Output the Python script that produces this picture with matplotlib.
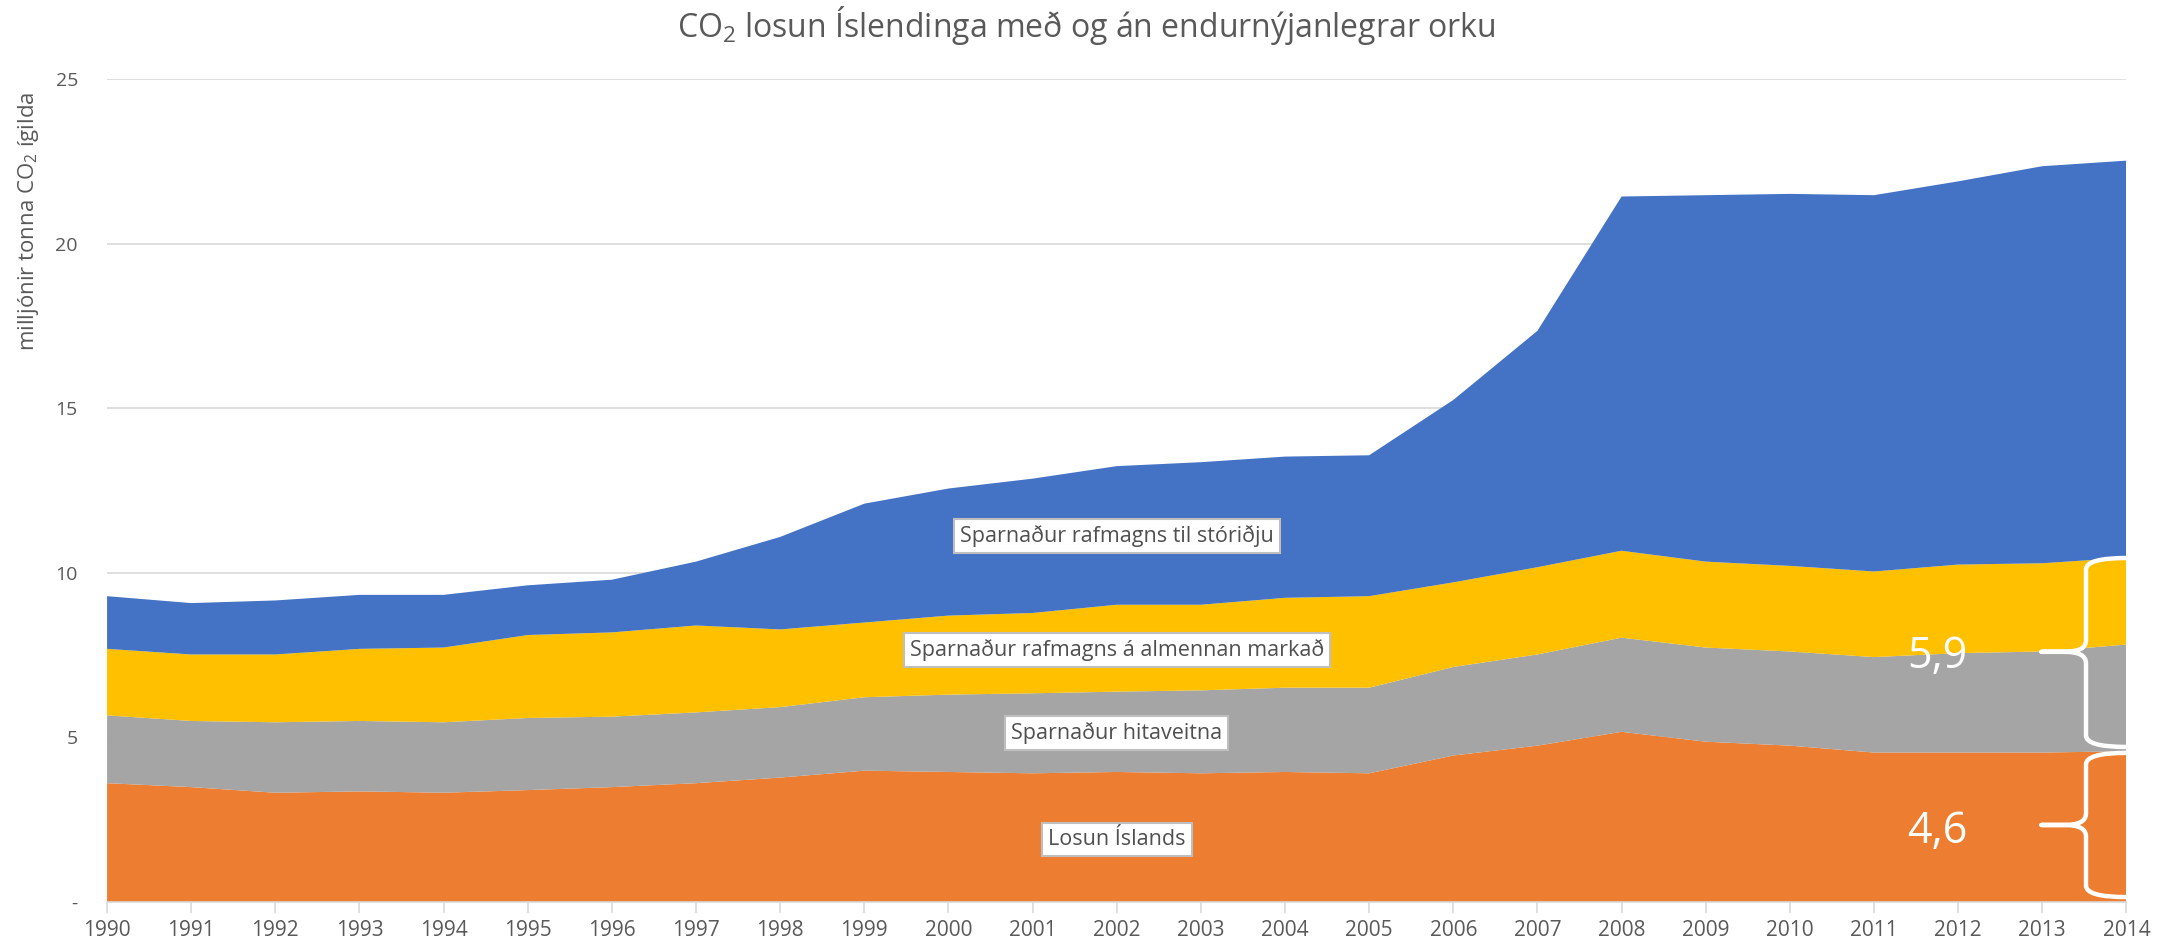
import matplotlib
matplotlib.use("Agg")
import matplotlib.pyplot as plt
from matplotlib.path import Path
from matplotlib.patches import PathPatch
import numpy as np

years = list(range(1990, 2015))
losun_islands = [3.61, 3.49, 3.32, 3.36, 3.32, 3.40, 3.49, 3.61, 3.78, 3.99, 3.95, 3.91, 3.95,
                 3.91, 3.95, 3.91, 4.45, 4.75, 5.17, 4.87, 4.75, 4.54, 4.54, 4.54, 4.58]
hitaveitur = [2.06, 2.01, 2.14, 2.14, 2.14, 2.19, 2.14, 2.15, 2.14, 2.23, 2.35, 2.43, 2.44,
              2.52, 2.56, 2.60, 2.69, 2.77, 2.86, 2.86, 2.86, 2.90, 3.02, 3.07, 3.24]
almennur = [2.02, 2.02, 2.06, 2.19, 2.27, 2.52, 2.56, 2.64, 2.36, 2.27, 2.40, 2.44, 2.64,
            2.60, 2.73, 2.78, 2.57, 2.65, 2.64, 2.61, 2.60, 2.60, 2.69, 2.68, 2.64]
storidja = [1.60, 1.56, 1.64, 1.64, 1.60, 1.51, 1.60, 1.94, 2.81, 3.61, 3.86, 4.08, 4.21,
            4.33, 4.29, 4.28, 5.54, 7.18, 10.76, 11.13, 11.30, 11.43, 11.64, 12.06, 12.06]
series_labels = ["Losun Íslands", "Sparnaður hitaveitna",
                 "Sparnaður rafmagns á almennan markað", "Sparnaður rafmagns til stóriðju"]
colors = ["#ED7D31", "#A5A5A5", "#FFC000", "#4472C4"]
brace_values = ["4,6", "5,9"]

plt.rcParams['mathtext.fontset'] = 'custom'
plt.rcParams['mathtext.rm'] = 'Open Sans'
plt.rcParams['mathtext.it'] = 'Open Sans'
plt.rcParams['mathtext.default'] = 'rm'

TXT = "#595959"
fig = plt.figure(figsize=(21.72, 9.47), dpi=100)
ax = fig.add_axes([0.0493, 0.0475, 0.9297, 0.8691])

ax.stackplot(years, losun_islands, hitaveitur, almennur, storidja,
             colors=colors, linewidth=0, zorder=2)

ax.set_xlim(1990, 2014)
ax.set_ylim(0, 25)
ax.set_yticks([0, 5, 10, 15, 20, 25])
ax.set_yticklabels(["-", "5", "10", "15", "20", "25"], family="Open Sans",
                   fontsize=14, color=TXT)
ax.set_xticks(years)
ax.set_xticklabels([str(y) for y in years], family="Open Sans", fontsize=15, color=TXT)
ax.tick_params(axis='y', length=0, pad=21)
ax.tick_params(axis='x', length=8, color="#D9D9D9", width=1.2, pad=5)
ax.grid(axis='y', color="#D9D9D9", linewidth=1.2, zorder=0)
ax.set_axisbelow(True)
for s in ["top", "right", "left"]:
    ax.spines[s].set_visible(False)
ax.spines["bottom"].set_color("#D9D9D9")
ax.spines["bottom"].set_linewidth(1.2)

ax.set_ylabel("milljónir tonna CO$_2$ ígilda", family="Open Sans",
              fontsize=16, color=TXT)
ax.yaxis.set_label_coords(-0.0325, 0.827)
fig.text(0.5, 0.973, "CO$_2$ losun Íslendinga með og án endurnýjanlegrar orku",
         ha="center", va="center", family="Open Sans", fontsize=23, color=TXT)

# series labels
label_pos = [(2002.0, 1.89), (2002.0, 5.13), (2002.0, 7.65), (2002.0, 11.13)]
for (x, y), t in zip(label_pos, series_labels):
    ax.text(x, y, t, ha="center", va="center", family="Open Sans", fontsize=15.5,
            color="#505050", zorder=5,
            bbox=dict(boxstyle="square,pad=0.28", fc="white", ec="#BFBFBF", lw=1.5))

# braces
def brace(y_bot, y_top, y_mid, x_end=2014.0, x_v=2013.52, x_tip=2012.99, r=0.35, d=0.25):
    verts = [(x_end, y_top), (x_v, y_top), (x_v, y_top - r),
             (x_v, y_mid + r), (x_v, y_mid), (x_v - d, y_mid),
             (x_tip, y_mid),
             (x_tip, y_mid), (x_v - d, y_mid), (x_v, y_mid), (x_v, y_mid - r),
             (x_v, y_bot + r), (x_v, y_bot), (x_end, y_bot)]
    codes = [Path.MOVETO, Path.CURVE3, Path.CURVE3,
             Path.LINETO, Path.CURVE3, Path.CURVE3,
             Path.LINETO,
             Path.MOVETO, Path.LINETO, Path.CURVE3, Path.CURVE3,
             Path.LINETO, Path.CURVE3, Path.CURVE3]
    p = PathPatch(Path(verts, codes), fc="none", ec="white", lw=3.2, zorder=6,
                  clip_on=False, capstyle="round")
    ax.add_patch(p)

brace(0.15, 4.53, 2.34)
brace(4.71, 10.45, 7.6)
ax.text(2011.75, 2.12, brace_values[0], ha="center", va="center", family="Open Sans",
        fontsize=31, color="white", zorder=7)
ax.text(2011.75, 7.45, brace_values[1], ha="center", va="center", family="Open Sans",
        fontsize=31, color="white", zorder=7)

fig.savefig("out.png", dpi=100)
